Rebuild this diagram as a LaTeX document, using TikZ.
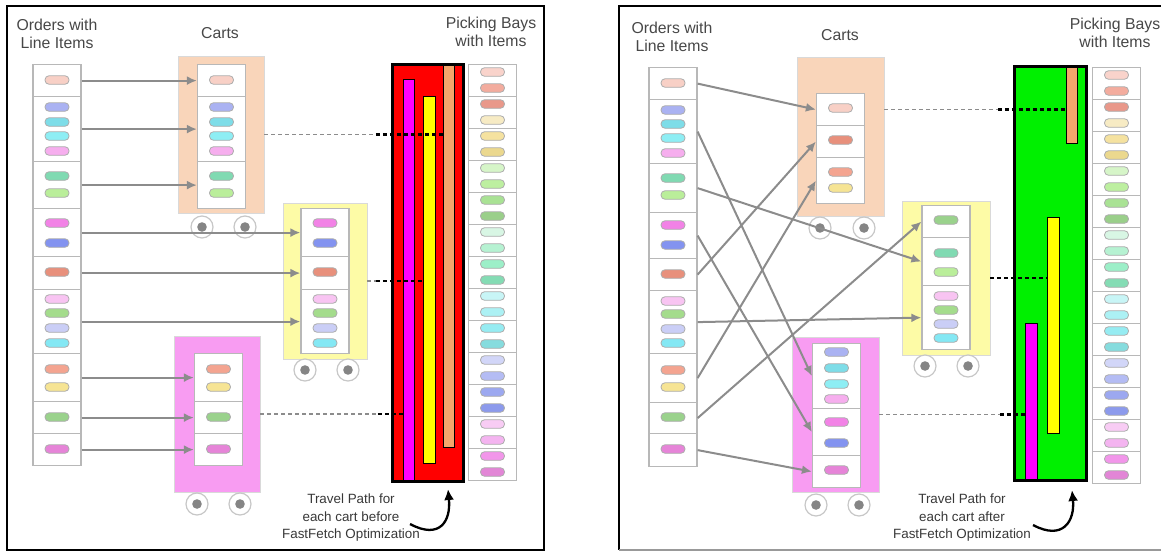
\documentclass[tikz,border=0pt]{standalone}
\usepackage{fontspec}
\setmainfont{Liberation Sans}
\usetikzlibrary{arrows.meta,fit,calc}

\definecolor{peach}{HTML}{F8D0C6}
\definecolor{lav}{HTML}{AAB2F2}
\definecolor{cyan}{HTML}{7EDDE8}
\definecolor{cyanL}{HTML}{8EEEF4}
\definecolor{pinkL}{HTML}{F6AEEE}
\definecolor{teal}{HTML}{80DAB2}
\definecolor{lime}{HTML}{BAEE9A}
\definecolor{mag}{HTML}{F282E6}
\definecolor{blue}{HTML}{8393F0}
\definecolor{salmD}{HTML}{E8907C}
\definecolor{pinkP}{HTML}{F8C4F2}
\definecolor{green}{HTML}{A4DC8C}
\definecolor{lavL}{HTML}{CACEF6}
\definecolor{cyanC}{HTML}{84E8F4}
\definecolor{salm}{HTML}{F4A490}
\definecolor{yel}{HTML}{F6E494}
\definecolor{greenD}{HTML}{9AD28C}
\definecolor{orch}{HTML}{E684D8}
\definecolor{cartpeach}{HTML}{F9D5BA}
\definecolor{cartyel}{HTML}{FDFBA6}
\definecolor{cartmag}{HTML}{F89CF2}
\definecolor{pathred}{HTML}{FF0000}
\definecolor{pathgreen}{HTML}{00F000}
\definecolor{pathmag}{HTML}{FF00FF}
\definecolor{pathyel}{HTML}{FFFF00}
\definecolor{pathorg}{HTML}{F4A66C}
\definecolor{linkgrey}{HTML}{8C8C8C}
\definecolor{bay1}{HTML}{F9D3CB}
\definecolor{bay2}{HTML}{F3AC9E}
\definecolor{bay3}{HTML}{E9988A}
\definecolor{bay4}{HTML}{F7EBC4}
\definecolor{bay5}{HTML}{F5E2A0}
\definecolor{bay6}{HTML}{EBD88E}
\definecolor{bay7}{HTML}{D6F5C8}
\definecolor{bay8}{HTML}{BDEFA0}
\definecolor{bay9}{HTML}{A9E294}
\definecolor{bay10}{HTML}{9ACF8A}
\definecolor{bay11}{HTML}{D8F6E4}
\definecolor{bay12}{HTML}{B6F2D2}
\definecolor{bay13}{HTML}{9CEFC8}
\definecolor{bay14}{HTML}{84DCB4}
\definecolor{bay15}{HTML}{C8F5F6}
\definecolor{bay16}{HTML}{ACF1F4}
\definecolor{bay17}{HTML}{96ECF2}
\definecolor{bay18}{HTML}{86DCDE}
\definecolor{bay19}{HTML}{D2D6F8}
\definecolor{bay20}{HTML}{B4BCF4}
\definecolor{bay21}{HTML}{9CA8F0}
\definecolor{bay22}{HTML}{8C9AEC}
\definecolor{bay23}{HTML}{F8CCF4}
\definecolor{bay24}{HTML}{F4B4F0}
\definecolor{bay25}{HTML}{F296EA}
\definecolor{bay26}{HTML}{E286D6}

\newcommand{\orderbin}[5]{%
  \node [cell, anchor=north, minimum height={(#4)-(#3)}] (#1) at (#2,#3) {};
  \foreach \c/\y [count=\i] in {#5}
    \node [item, fill=\c] (#1-\i) at (#2,\y) {};
}
\newcommand{\baycolumn}[3]{%
  \foreach \i in {0,...,12} {
    \pgfmathtruncatemacro{\ka}{2*\i+1}
    \pgfmathtruncatemacro{\kb}{2*\i+2}
    \node [cell, anchor=north, minimum height=32] (#1\i) at (#2,{#3+32*\i}) {};
    \node [item, fill=bay\ka] (#1\i-1) at (#2,{#3+8+32*\i}) {};
    \node [item, fill=bay\kb] (#1\i-2) at (#2,{#3+24+32*\i}) {};
  }
}

\begin{document}
\begin{tikzpicture}[x=1pt,y=-1pt]
\tikzstyle{every node}+=[inner sep=0pt]
\tikzstyle{frame}=[black, line width=2.8pt]
\tikzstyle{title}=[align=center, text=black!72, font=\fontsize{15.8}{18.5}\selectfont]
\tikzstyle{caption}=[align=center, text=black!78, font=\fontsize{13.4}{17.5}\selectfont]
\tikzstyle{cell}=[draw=black!28, fill=white, line width=1.2pt, minimum width=48]
\tikzstyle{item}=[draw=black!32, line width=0.8pt, rounded corners=4pt, minimum width=24, minimum height=8.5]
\tikzstyle{cart}=[draw=black!15, line width=0.8pt]
\tikzstyle{wheel}=[circle, draw=black!22, fill=white, line width=1.2pt, minimum size=22,
  path picture={\fill [black!48] (path picture bounding box.center) circle (4.8);}]
\tikzstyle{bar}=[draw=black, line width=0.9pt]
\tikzstyle{blockline}=[draw=black, line width=2.8pt]
\tikzstyle{link}=[linkgrey, line width=2pt, -{Latex[length=10pt,width=9pt]}]
\tikzstyle{trail}=[black!45, line width=1.5pt, dash pattern=on 4pt off 3pt]
\tikzstyle{trailend}=[black, line width=2.5pt, dash pattern=on 4pt off 3pt]
\tikzstyle{swoop}=[black, line width=2.3pt, -{Latex[length=11pt,width=10pt]}]
\useasboundingbox (0,0) rectangle (1161,552);

\draw [frame] (7,6) rectangle (544,550);
\draw [frame] (1161,6) -- (619,6) -- (619,550);
\draw [black!40, line width=1.5pt] (619,550) -- (1161,550);

\node [title] (ltitle1) at (57,34) {Orders with\\Line Items};
\node [title] (ltitle2) at (220,33) {Carts};
\node [title] (ltitle3) at (491,32) {Picking Bays\\with Items};
\node [title] (rtitle1) at (672,37) {Orders with\\Line Items};
\node [title] (rtitle2) at (840,35) {Carts};
\node [title] (rtitle3) at (1115,33) {Picking Bays\\with Items};

\orderbin{lo1}{57}{64}{96}{peach/80}
\orderbin{lo2}{57}{96}{161}{lav/107,cyan/122,cyanL/136,pinkL/151}
\orderbin{lo3}{57}{161}{208}{teal/176,lime/193}
\orderbin{lo4}{57}{208}{256}{mag/223,blue/243}
\orderbin{lo5}{57}{256}{289}{salmD/272}
\orderbin{lo6}{57}{289}{353}{pinkP/299,green/313,lavL/328,cyanC/343}
\orderbin{lo7}{57}{353}{401}{salm/369,yel/387}
\orderbin{lo8}{57}{401}{433}{greenD/417}
\orderbin{lo9}{57}{433}{465}{orch/449}

\node [cart, fill=cartpeach, fit={(178,56) (264,213)}] (lcart1) {};
\orderbin{lk1}{221.5}{64}{96}{peach/80}
\orderbin{lk2}{221.5}{96}{161}{lav/107,cyan/122,cyanL/136,pinkL/151}
\orderbin{lk3}{221.5}{161}{208}{teal/176,lime/193}
\node [wheel] (lw1) at (202,227) {};
\node [wheel] (lw2) at (245,227) {};

\node [cart, fill=cartyel, fit={(283,203) (367,359)}] (lcart2) {};
\orderbin{lk4}{325}{208}{256}{mag/223,blue/243}
\orderbin{lk5}{325}{256}{289}{salmD/272}
\orderbin{lk6}{325}{289}{353}{pinkP/299,green/313,lavL/328,cyanC/343}
\node [wheel] (lw3) at (305,370) {};
\node [wheel] (lw4) at (348,370) {};

\node [cart, fill=cartmag, fit={(174,336) (260,492)}] (lcart3) {};
\orderbin{lk7}{218.5}{353}{401}{salm/369,yel/387}
\orderbin{lk8}{218.5}{401}{433}{greenD/417}
\orderbin{lk9}{218.5}{433}{465}{orch/449}
\node [wheel] (lw5) at (197,504) {};
\node [wheel] (lw6) at (240,504) {};

\node [fill=pathred, fit={(393,65) (463,481)}] (lred) {};
\node [bar, fill=pathmag, fit={(403,79) (414,481)}] (lpath3) {};
\node [bar, fill=pathyel, fit={(423,96) (435,463)}] (lpath2) {};
\node [bar, fill=pathorg, fit={(443,65) (454,447)}] (lpath1) {};
\draw [blockline] (lred.south west) rectangle (lred.north east);
\baycolumn{lb}{492.5}{64}

\foreach \i in {1,...,9}
  \draw [link] (lo\i.east) -- (lk\i.west);

\draw [trail] (lcart1.east) -- ($(lred.west |- lcart1.east)+(-17,0)$);
\draw [trailend] ($(lred.west |- lcart1.east)+(-17,0)$) -- (lpath1.west |- lcart1.east);
\draw [trail] (lcart2.east) -- ($(lred.west |- lcart2.east)+(-17,0)$);
\draw [trailend] ($(lred.west |- lcart2.east)+(-17,0)$) -- (lpath2.west |- lcart2.east);
\draw [trail] (lcart3.east) -- ($(lred.west |- lcart3.east)+(-15,0)$);
\draw [trailend] ($(lred.west |- lcart3.east)+(-15,0)$) -- (lpath3.west |- lcart3.east);

\node [caption] (lnote) at (351,518) {Travel Path for\\each cart before\\FastFetch Optimization};
\coordinate (ltail) at (410,524);
\coordinate (lhead) at (448,489);
\draw [swoop] (ltail) .. controls (440,540) and (451,521) .. (lhead);

\orderbin{ro1}{673}{67}{99}{peach/83}
\orderbin{ro2}{673}{99}{163}{lav/110,cyan/124,cyanL/138,pinkL/153}
\orderbin{ro3}{673}{163}{212}{teal/178,lime/195}
\orderbin{ro4}{673}{212}{258}{mag/225,blue/245}
\orderbin{ro5}{673}{258}{290}{salmD/274}
\orderbin{ro6}{673}{290}{353}{pinkP/301,green/314,lavL/329,cyanC/343}
\orderbin{ro7}{673}{353}{402}{salm/370,yel/387}
\orderbin{ro8}{673}{402}{433}{greenD/417}
\orderbin{ro9}{673}{433}{466}{orch/449}

\node [cart, fill=cartpeach, fit={(797,57) (884,216)}] (rcart1) {};
\orderbin{rc1a}{840.5}{93}{125}{peach/108}
\orderbin{rc1b}{840.5}{125}{157}{salmD/140}
\orderbin{rc1c}{840.5}{157}{203}{salm/172,yel/188}
\node [wheel] (rw1) at (820,228) {};
\node [wheel] (rw2) at (864,228) {};

\node [cart, fill=cartyel, fit={(902,201) (990,355)}] (rcart2) {};
\orderbin{rc2a}{946}{205}{237}{greenD/220}
\orderbin{rc2b}{946}{237}{285}{teal/253,lime/272}
\orderbin{rc2c}{946}{285}{349}{pinkP/296,green/310,lavL/324,cyanC/338}
\node [wheel] (rw3) at (925,366) {};
\node [wheel] (rw4) at (968,366) {};

\node [cart, fill=cartmag, fit={(792,337) (879,492)}] (rcart3) {};
\orderbin{rc3a}{836.5}{343}{408}{lav/352,cyan/368,cyanL/384,pinkL/399}
\orderbin{rc3b}{836.5}{408}{455}{mag/422,blue/443}
\orderbin{rc3c}{836.5}{455}{487}{orch/470}
\node [wheel] (rw5) at (816,505) {};
\node [wheel] (rw6) at (859,505) {};

\node [fill=pathgreen, fit={(1015,67) (1086,480)}] (rgreen) {};
\node [bar, fill=pathorg, fit={(1066,67) (1077,143)}] (rpath1) {};
\node [bar, fill=pathyel, fit={(1047,217) (1059,433)}] (rpath2) {};
\node [bar, fill=pathmag, fit={(1025,323) (1037,480)}] (rpath3) {};
\draw [blockline] (rgreen.south west) rectangle (rgreen.north east);
\baycolumn{rb}{1116.5}{67}

\draw [link] (ro1.east) -- (rc1a.west);
\draw [link] (ro2.east) -- (rc3a.west);
\draw [link] (ro3.east) -- (rc2b.west);
\draw [link] (ro4.east) -- (rc3b.west);
\draw [link] (ro5.east) -- (rc1b.west);
\draw [link] (ro6.east) -- (rc2c.west);
\draw [link] (ro7.east) -- (rc1c.west);
\draw [link] (ro8.east) -- (rc2a.west);
\draw [link] (ro9.east) -- (rc3c.west);

\draw [trail] (rcart1.east |- rc1a.east) -- ($(rgreen.west |- rc1a.east)+(-17,0)$);
\draw [trailend] ($(rgreen.west |- rc1a.east)+(-17,0)$) -- (rpath1.west |- rc1a.east);
\draw [trailend] (rcart2.east) -- (rpath2.west |- rcart2.east);
\draw [trail] (rcart3.east) -- ($(rgreen.west |- rcart3.east)+(-15,0)$);
\draw [trailend] ($(rgreen.west |- rcart3.east)+(-15,0)$) -- (rpath3.west |- rcart3.east);

\node [caption] (rnote) at (962,518) {Travel Path for\\each cart after\\FastFetch Optimization};
\coordinate (rtail) at (1033,525);
\coordinate (rhead) at (1072,490);
\draw [swoop] (rtail) .. controls (1063,541) and (1075,521) .. (rhead);
\end{tikzpicture}
\end{document}
